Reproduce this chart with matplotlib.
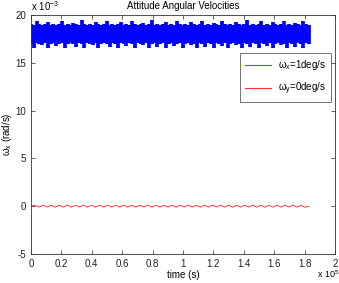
import matplotlib
matplotlib.use("Agg")
import matplotlib.pyplot as plt
from matplotlib.lines import Line2D
import numpy as np

plt.rcParams['font.family'] = ['Liberation Sans', 'DejaVu Sans']
plt.rcParams['mathtext.fontset'] = 'custom'
plt.rcParams['mathtext.rm'] = 'Liberation Sans'
plt.rcParams['mathtext.it'] = 'Liberation Sans'

# time span of both signals (s)
t_end = 1.83e5

# omega_x: upper / lower extremes of the dense oscillation (x 1e-3 rad/s)
wx_upper = [19.1, 19.0, 19.4, 19.1, 19.0, 19.1, 19.3, 19.0, 19.1, 19.0,
            19.1, 19.4, 19.0, 19.1, 19.0, 19.2, 19.1, 19.0, 19.5, 19.1,
            19.0, 19.1, 19.0, 19.3, 19.1, 19.0, 19.1, 19.4, 19.0, 19.1,
            19.0, 19.1, 19.3, 19.0, 19.1, 19.0, 19.4, 19.1, 19.0, 19.1,
            19.2, 19.0, 19.1, 19.5, 19.0, 19.1, 19.0, 19.1, 19.3, 19.0,
            19.1, 19.0, 19.4, 19.1, 19.0, 19.1, 19.0, 19.3, 19.1, 19.0,
            19.1, 19.4, 19.0, 19.1, 19.0, 19.2, 19.1, 19.0, 19.4, 19.1,
            19.0, 19.1, 19.0, 19.3, 19.1, 19.0, 19.1, 19.5, 19.0, 19.1,
            19.0, 19.1, 19.4, 19.0, 19.1, 19.0, 19.3, 19.1, 19.0, 19.1,
            19.4, 19.0, 19.1, 19.0, 19.2, 19.1, 19.0, 19.4, 19.1, 19.0]
wx_lower = [17.0, 16.6, 17.1, 17.0, 16.9, 17.1, 16.5, 17.0, 17.1, 16.8,
            17.0, 17.1, 16.6, 17.0, 17.1, 17.0, 16.7, 17.1, 17.0, 16.5,
            17.1, 17.0, 16.9, 17.1, 16.6, 17.0, 17.1, 17.0, 16.7, 17.1,
            17.0, 16.5, 17.1, 17.0, 16.8, 17.1, 17.0, 16.6, 17.1, 17.0,
            16.9, 17.1, 16.5, 17.0, 17.1, 16.7, 17.0, 17.1, 16.6, 17.0,
            17.1, 16.8, 17.0, 17.1, 16.5, 17.0, 17.1, 16.9, 17.0, 16.6,
            17.1, 17.0, 16.7, 17.1, 17.0, 16.5, 17.1, 17.0, 16.8, 17.1,
            16.6, 17.0, 17.1, 16.9, 17.0, 16.5, 17.1, 17.0, 16.7, 17.1,
            17.0, 16.6, 17.1, 17.0, 16.8, 17.1, 16.5, 17.0, 17.1, 16.9,
            17.0, 16.6, 17.1, 17.0, 16.7, 17.1, 17.0, 16.5, 17.1, 17.0]

# omega_y: small ripple around zero (x 1e-3 rad/s)
wy = [0.0, 0.10, -0.10, 0.11, -0.09, 0.10, -0.11, 0.09, -0.10, 0.11,
      -0.10, 0.10, -0.09, 0.11, -0.10, 0.09, -0.11, 0.10, -0.10, 0.11,
      -0.09, 0.10, -0.10, 0.11, -0.11, 0.09, -0.10, 0.10, -0.09, 0.11,
      -0.10, 0.10, -0.11, 0.09, -0.10, 0.11, -0.10, 0.10, -0.09, 0.11,
      -0.10, 0.09, -0.11, 0.10, -0.10, 0.11, -0.09, 0.10, -0.10, 0.11,
      -0.11, 0.09, -0.10, 0.10, -0.09, 0.11, -0.10, 0.10, -0.11, 0.09,
      -0.10, 0.11, -0.10, 0.10, -0.09, 0.11, -0.10, 0.09, -0.11, 0.0]

xticks = [0, 0.2, 0.4, 0.6, 0.8, 1, 1.2, 1.4, 1.6, 1.8, 2]
yticks = [-5, 0, 5, 10, 15, 20]

fig = plt.figure(figsize=(3.39, 2.83), dpi=100)
ax = fig.add_axes([0.0914, 0.1025, 0.8966, 0.8445])

tx = np.linspace(0, t_end, len(wx_upper)) / 1e5
ty = np.linspace(0, t_end, len(wy)) / 1e5

ax.vlines(tx, wx_lower, wx_upper, color='#0000ff', linewidth=2.7)
ax.plot(ty, wy, color='#ff2020', lw=0.6)

ax.set_xlim(0, 2)
ax.set_ylim(-5, 20)
ax.set_xticks(xticks)
ax.set_xticklabels(['0', '0.2', '0.4', '0.6', '0.8', '1', '1.2', '1.4', '1.6', '1.8', '2'])
ax.set_yticks(yticks)
ax.set_yticklabels([str(v) for v in yticks])
ax.tick_params(direction='in', length=3, width=0.5, labelsize=7, top=True, right=True,
               colors='#222222')
for s in ax.spines.values():
    s.set_linewidth(0.6)
    s.set_color('#333333')

ax.set_title('Attitude Angular Velocities', fontsize=7, pad=4)
ax.set_xlabel('time (s)', fontsize=7, labelpad=1)
ax.set_ylabel(r'$\omega_x$ (rad/s)', fontsize=7, labelpad=1)

ax.text(0.0, 1.01, r'x 10$^{-3}$', transform=ax.transAxes, fontsize=7, va='bottom', ha='left')
fig.text(0.935, 0.012, r'x 10$^{5}$', fontsize=6.5, va='bottom', ha='left')

handles = [Line2D([], [], color='#5050ff', lw=0.8),
           Line2D([], [], color='#ff3030', lw=0.8)]
labels = [r'$\omega_x$=1deg/s', r'$\omega_y$=0deg/s']
leg = ax.legend(handles, labels, loc='upper right', bbox_to_anchor=(0.988, 0.84), fontsize=7,
                frameon=True, fancybox=False, handlelength=2.6, borderpad=0.5,
                labelspacing=0.9, handletextpad=0.8, borderaxespad=0)
leg.get_frame().set_edgecolor('#333333')
leg.get_frame().set_linewidth(0.6)

fig.savefig('out.png', dpi=100)
